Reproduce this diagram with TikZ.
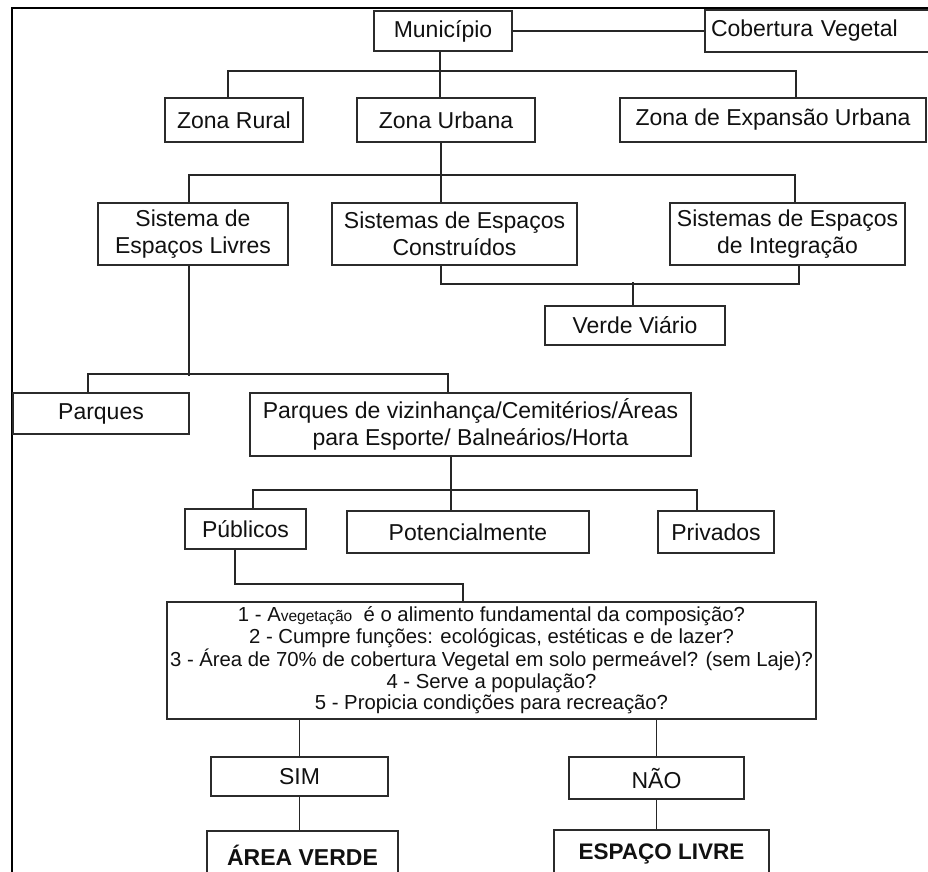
\documentclass[tikz,border=0pt]{standalone}
\usepackage{fontspec}
\setmainfont{Liberation Sans}
\definecolor{boxc}{HTML}{2B2B2B}
\definecolor{linec}{HTML}{262626}
\definecolor{txt}{HTML}{111111}
\tikzset{
  box/.style={draw=boxc, line width=1.8pt, inner sep=0pt, align=center, text=txt,
              font=\fontsize{23}{27}\selectfont},
  conn/.style={draw=linec, line width=1.5pt},
  frameline/.style={draw=black, line width=2.2pt},
}
\begin{document}
\begin{tikzpicture}[x=1pt,y=-1pt]
\useasboundingbox (0,0) rectangle (928,871);
\clip (0,0) rectangle (928,871);
\fill[white] (0,0) rectangle (928,871);
% outer frame (cropped)
\draw[frameline] (12,880) -- (12,8) -- (940,8);

% level 0
\node[box, minimum width=138pt, minimum height=40pt] (mun) at (443,31) {Município};
\node[box, minimum width=235pt, minimum height=42pt, text width=223pt, inner xsep=6pt, align=left] (cob) at (822.5,31) {Cobertura Vegetal};

% level 1
\node[box, minimum width=138pt, minimum height=44pt] (zr) at (234,120) {Zona Rural};
\node[box, minimum width=178pt, minimum height=44pt] (zu) at (446,120) {Zona Urbana};
\node[box, minimum width=306pt, minimum height=44pt] (ze) at (773,120) {Zona de Expansão Urbana};

% level 2
\node[box, minimum width=190pt, minimum height=62pt] (sl) at (193,234) {Sistema de\\Espaços Livres};
\node[box, minimum width=245pt, minimum height=62pt] (sc) at (454.5,234) {Sistemas de Espaços\\Construídos};
\node[box, minimum width=235pt, minimum height=62pt] (si) at (787.5,234) {Sistemas de Espaços\\de Integração};
\node[box, minimum width=180pt, minimum height=39pt] (vv) at (635,325.5) {Verde Viário};

% level 3
\node[box, minimum width=176pt, minimum height=41pt] (pq) at (101,413.5) {Parques};
\node[box, minimum width=441pt, minimum height=63pt] (pv) at (470.5,424.5) {Parques de vizinhança/Cemitérios/Áreas\\para Esporte/ Balneários/Horta};

% level 4
\node[box, minimum width=121pt, minimum height=40pt] (pub) at (245.5,529) {Públicos};
\node[box, minimum width=242pt, minimum height=42pt] (pot) at (468,532) {Potencialmente};
\node[box, minimum width=116pt, minimum height=42pt] (pri) at (716,532) {Privados};

% questions
\node[box, minimum width=649pt, minimum height=117pt, font=\fontsize{20.3}{21.7}\selectfont] (q) at (491.5,660.5)
  {1 - A{\fontsize{15.5}{21.7}\selectfont vegetação}~ é o alimento fundamental da composição?\\
   2 - Cumpre funções: ecológicas, estéticas e de lazer?\\
   3 - Área de 70\% de cobertura Vegetal em solo permeável? (sem Laje)?\\
   4 - Serve a população?\\
   5 - Propicia condições para recreação?};

% answers
\node[box, minimum width=177pt, minimum height=39pt] (sim) at (299.5,776.5) {SIM};
\node[box, minimum width=175pt, minimum height=42pt] (nao) at (656.5,778) {NÃO};
\node[box, minimum width=191pt, minimum height=48pt, font=\bfseries\fontsize{23}{27}\selectfont] (av) at (302.5,855) {ÁREA VERDE};
\node[box, minimum width=215pt, minimum height=48pt, font=\bfseries\fontsize{22.5}{27}\selectfont] (el) at (661.5,854) {ESPAÇO LIVRE};

% connectors
\draw[conn] (mun.east) -- (mun.east -| cob.west);
\draw[conn] ([xshift=-3pt]mun.south) -- ([xshift=-6pt]zu.north);
\draw[conn] ([xshift=-6pt]zr.north) -- ++(0,-26) -| ([xshift=23pt]ze.north);

\draw[conn] ([xshift=-5pt]zu.south) -- ([xshift=-13.5pt]sc.north);
\draw[conn] ([xshift=-4pt]sl.north) -- ++(0,-27) -| ([xshift=7.5pt]si.north);
\draw[conn] ([xshift=-13.5pt]sc.south) -- ++(0,18) -| ([xshift=11.5pt]si.south);
\draw[conn] ([xshift=-2pt]vv.north) -- ++(0,-23);

\draw[conn] ([xshift=-4pt]sl.south) -- ++(0,110);
\draw[conn] ([xshift=-13pt]pq.north) -- ++(0,-18) -| ([xshift=-22.5pt]pv.north);

\draw[conn] ([xshift=-19.5pt]pv.south) -- ([xshift=-17pt]pot.north);
\draw[conn] ([xshift=7.5pt]pub.north) -- ++(0,-18) -| ([xshift=-19pt]pri.north);

\draw[conn] ([xshift=-10.5pt]pub.south) -- ++(0,34) -| ([xshift=-28.5pt]q.north);

\draw[conn] (q.south -| sim.north) -- (sim.north);
\draw[conn] (q.south -| nao.north) -- (nao.north);
\draw[conn] (sim.south) -- (sim.south |- av.north);
\draw[conn] (nao.south) -- (nao.south |- el.north);
\end{tikzpicture}
\end{document}
